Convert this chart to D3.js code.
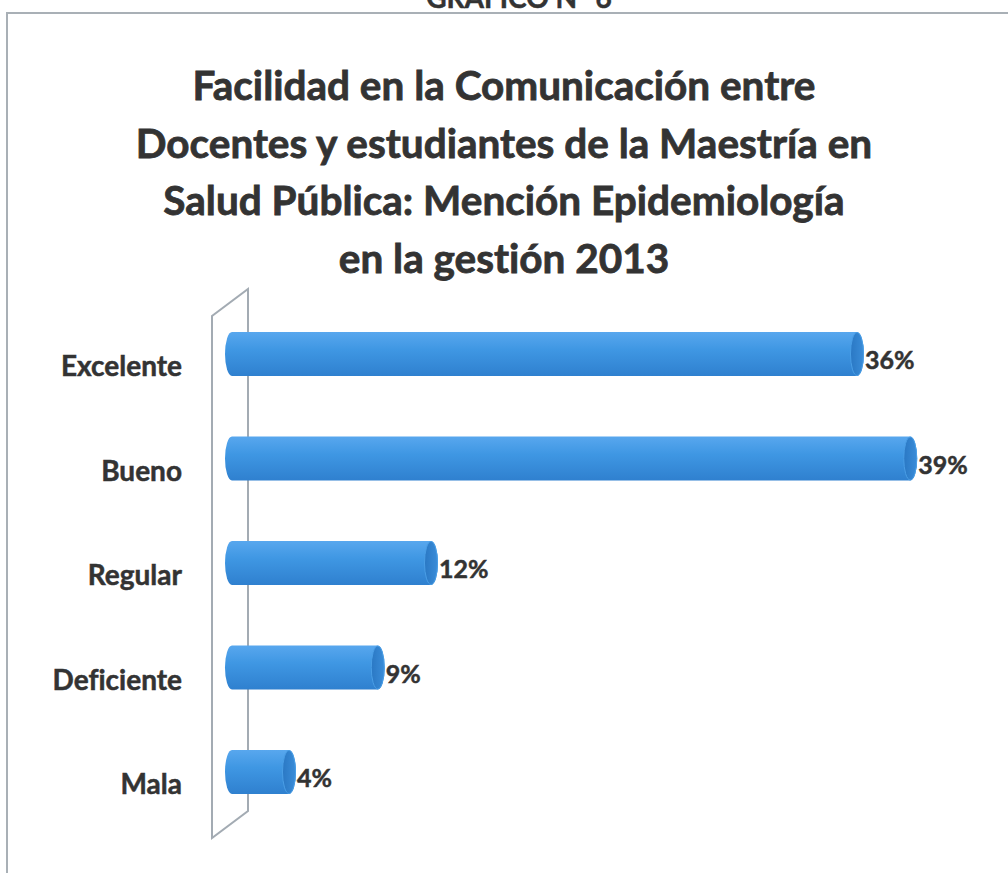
<!DOCTYPE html>
<html>
<head>
<meta charset="utf-8">
<script src="https://cdn.jsdelivr.net/npm/d3@7"></script>
<style>
  body { margin: 0; background: #fff; }
  svg { display: block; }
  text { font-family: Lato, "Open Sans", sans-serif; font-weight: bold; fill: #333;
         stroke: #333; stroke-width: 0.5px; font-variant-ligatures: none; }
</style>
</head>
<body>
<div id="chart"></div>
<script>
const categories = ["Excelente", "Bueno", "Regular", "Deficiente", "Mala"]
const values = [36, 39, 12, 9, 4]
const titleLines = [
    "Facilidad en la Comunicación entre",
    "Docentes y estudiantes de la Maestría en",
    "Salud Pública: Mención Epidemiología",
    "en la gestión 2013"
]
const headerText = "GRÁFICO N° 6"

const width = 1008
const height = 873

const svg = d3.select("#chart").append("svg")
    .attr("width", width)
    .attr("height", height)

// gradients for the cylinders
const defs = svg.append("defs")
const bodyGrad = defs.append("linearGradient")
    .attr("id", "bodyGrad").attr("x1", 0).attr("y1", 0).attr("x2", 0).attr("y2", 1)
bodyGrad.append("stop").attr("offset", "0%").attr("stop-color", "#58a7ee")
bodyGrad.append("stop").attr("offset", "40%").attr("stop-color", "#3f97e3")
bodyGrad.append("stop").attr("offset", "100%").attr("stop-color", "#2f80cf")
const capGrad = defs.append("linearGradient")
    .attr("id", "capGrad").attr("x1", 0).attr("y1", 0).attr("x2", 1).attr("y2", 0)
capGrad.append("stop").attr("offset", "0%").attr("stop-color", "#2a78c4")
capGrad.append("stop").attr("offset", "100%").attr("stop-color", "#3a8cd8")

// outer frame (runs off right and bottom)
svg.append("rect")
    .attr("x", 7).attr("y", 13)
    .attr("width", width + 20).attr("height", height + 20)
    .style("fill", "none").style("stroke", "#a9b0b6").style("stroke-width", 2)

// header, mostly cut off at the top like the scan
svg.append("text")
    .attr("x", 519).attr("y", 8)
    .attr("text-anchor", "middle")
    .style("font-size", "28px")
    .text(headerText)

// title
svg.append("g").selectAll("text")
    .data(titleLines)
    .enter().append("text")
    .attr("x", 504)
    .attr("y", (d, i) => 100 + i * 57.5)
    .attr("text-anchor", "middle")
    .style("font-size", "40.5px")
    .style("stroke-width", "0.8px")
    .text(d => d)

// scales
const x = d3.scaleLinear().domain([0, 40]).range([225, 935])
const y = d3.scalePoint().domain(categories).range([354, 772])
const barH = 44
const rx = 7
const depthX = 36, depthY = 27

// wall (axis plane)
const wallTop = y(categories[0]) - 38
const wallBottom = y(categories[categories.length - 1]) + 66
const wallX = x(0) - 13
svg.append("path")
    .attr("d", `M${wallX},${wallBottom} L${wallX},${wallTop} L${wallX + depthX},${wallTop - depthY} L${wallX + depthX},${wallBottom - depthY} Z`)
    .style("fill", "none").style("stroke", "#a3abb3").style("stroke-width", 2)

// bars
const bars = svg.append("g").selectAll("g")
    .data(categories.map((c, i) => ({ cat: c, val: values[i] })))
    .enter().append("g")

bars.append("path")
    .attr("d", d => {
        const x0 = x(0), x1 = x(d.val), t = y(d.cat) - barH / 2, b = y(d.cat) + barH / 2
        return `M${x0 + rx},${t} L${x1 - rx},${t} A${rx},${barH / 2} 0 0 1 ${x1 - rx},${b} ` +
               `L${x0 + rx},${b} A${rx},${barH / 2} 0 0 1 ${x0 + rx},${t} Z`
    })
    .style("fill", "url(#bodyGrad)")

bars.append("ellipse")
    .attr("cx", d => x(d.val) - rx)
    .attr("cy", d => y(d.cat))
    .attr("rx", rx - 0.5)
    .attr("ry", barH / 2 - 0.5)
    .style("fill", "url(#capGrad)")
    .style("stroke", "#4a9ee6").style("stroke-width", 1)

// value labels
bars.append("text")
    .attr("x", d => x(d.val) + 1)
    .attr("y", d => y(d.cat) + 15)
    .style("font-size", "25px")
    .text(d => d.val + "%")

// category labels
svg.append("g").selectAll("text")
    .data(categories)
    .enter().append("text")
    .attr("x", 182)
    .attr("y", d => y(d) + 22)
    .attr("text-anchor", "end")
    .style("font-size", "28px")
    .text(d => d)
</script>
</body>
</html>
